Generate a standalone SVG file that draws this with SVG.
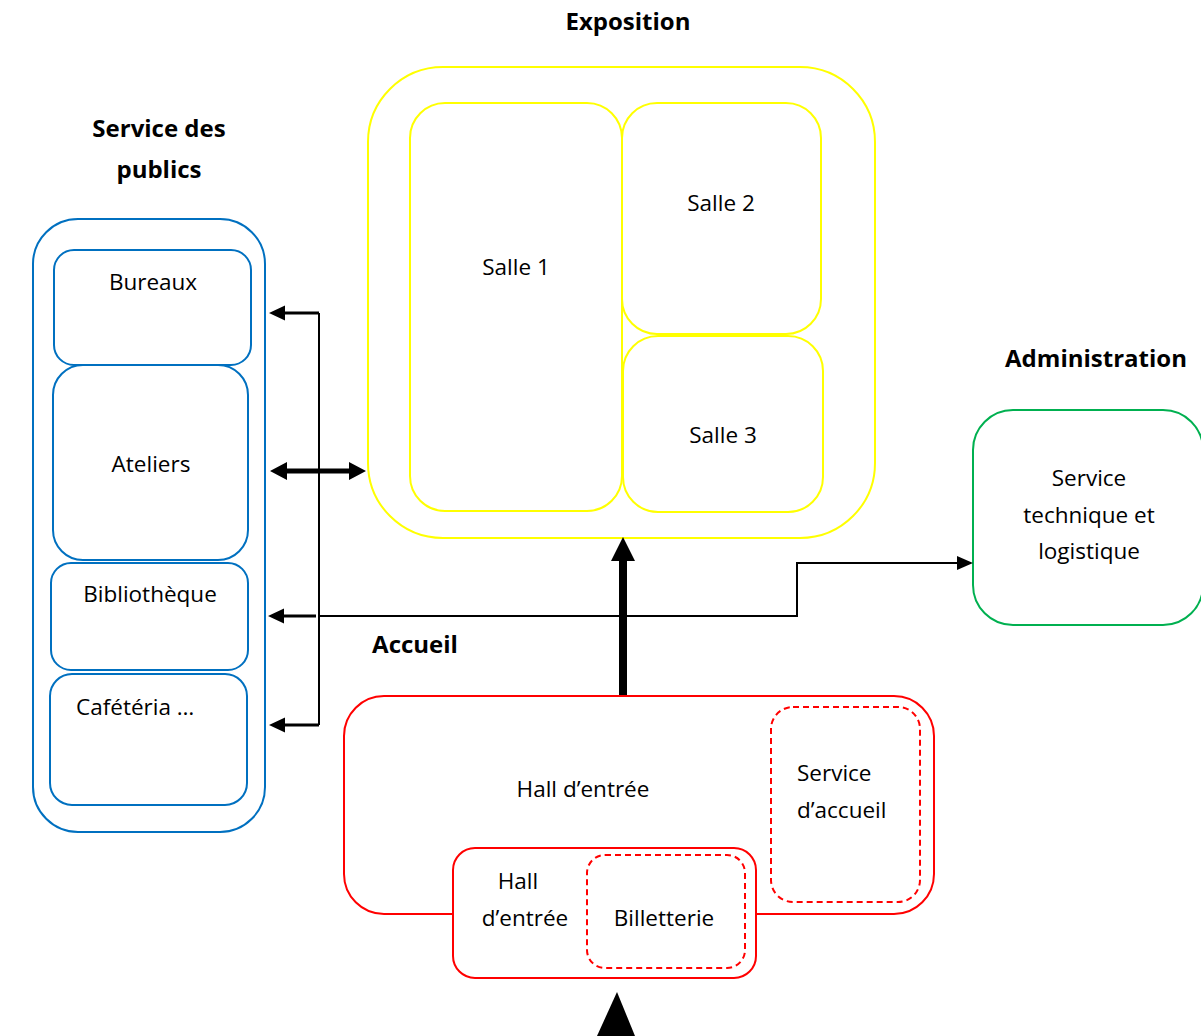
<svg xmlns="http://www.w3.org/2000/svg" width="1201" height="1036" viewBox="0 0 1201 1036">
<style>
text{font-family:"Open Sans","Liberation Sans",sans-serif;font-size:22.5px;fill:#000}
.t{font-family:"Open Sans","Liberation Sans",sans-serif;font-weight:bold;font-size:24px}
.c{text-anchor:middle}
.blue{fill:#fff;stroke:#0070C0;stroke-width:2}
.yel{fill:#fff;stroke:#FFFF00;stroke-width:2}
.grn{fill:#fff;stroke:#00B050;stroke-width:2}
.red{fill:#fff;stroke:#FF0000;stroke-width:2}
.dash{fill:#fff;stroke:#FF0000;stroke-width:2;stroke-dasharray:6 4}
.ln{fill:none;stroke:#000}
</style>
<rect width="1201" height="1036" fill="#fff"/>
<g id="service-des-publics">
<text class="t c" x="159" y="137">Service des</text>
<text class="t c" x="159" y="178">publics</text>
<rect class="blue" x="33" y="219" width="232" height="613" rx="45"/>
</g>
<g id="bureaux"><rect class="blue" x="54" y="250" width="197" height="115" rx="20"/><text class="c" x="153" y="290">Bureaux</text></g>
<g id="ateliers"><rect class="blue" x="53" y="365" width="195" height="195" rx="30"/><text class="c" x="151" y="472">Ateliers</text></g>
<g id="bibliotheque"><rect class="blue" x="51" y="563" width="197" height="107" rx="20"/><text class="c" x="150" y="602">Bibliothèque</text></g>
<g id="cafeteria"><rect class="blue" x="50" y="674" width="197" height="131" rx="22"/><text x="76" y="715">Cafétéria …</text></g>
<g id="exposition">
<text class="t c" x="628" y="30">Exposition</text>
<rect class="yel" x="368" y="67" width="507" height="471" rx="75"/>
</g>
<g id="salle1"><rect class="yel" x="410" y="103" width="212" height="408" rx="35"/><text class="c" x="516" y="275">Salle 1</text></g>
<g id="salle2"><rect class="yel" x="622" y="103" width="199" height="231" rx="35"/><text class="c" x="721" y="211">Salle 2</text></g>
<g id="salle3"><rect class="yel" x="623" y="336" width="200" height="176" rx="35"/><text class="c" x="723" y="443">Salle 3</text></g>
<g id="administration">
<text class="t c" x="1096" y="367">Administration</text>
<rect class="grn" x="973" y="410" width="230" height="215" rx="40"/>
<text class="c" x="1089" y="486">Service</text>
<text class="c" x="1089" y="523">technique et</text>
<text class="c" x="1089" y="559">logistique</text>
</g>
<g id="accueil">
<text class="t c" x="415" y="653">Accueil</text>
<rect class="red" x="344" y="696" width="590" height="218" rx="40"/>
<text class="c" x="583" y="797">Hall d’entrée</text>
</g>
<g id="service-accueil"><rect class="dash" x="771" y="707" width="149" height="195" rx="22"/><text x="797" y="781">Service</text><text x="797" y="818">d’accueil</text></g>
<g id="hall-entree"><rect class="red" x="453" y="848" width="303" height="130" rx="22"/><text class="c" x="518" y="889">Hall</text><text class="c" x="525" y="926">d’entrée</text></g>
<g id="billetterie"><rect class="dash" x="587" y="855" width="158" height="113" rx="18"/><text class="c" x="664" y="926">Billetterie</text></g>
<g id="connectors">
<path class="ln" stroke-width="2" d="M319 313V725"/>
<path class="ln" stroke-width="3" d="M319 313H282M319 725H282M316 616H282"/>
<path d="M269 313l16-7.5v15z M269 725l16-7.5v15z M268 616l16-7.5v15z"/>
<path class="ln" stroke-width="5" d="M285 471H350"/>
<path d="M270 471l17-9v18z M366 471l-17-9v18z"/>
<path class="ln" stroke-width="2" d="M319 616H797V563H960"/>
<path d="M973 563l-16-7v14z"/>
<path class="ln" stroke-width="8" d="M623 695V558"/>
<path d="M623 537l12 24h-24z"/>
<path d="M617 992l18 44h-38z"/>
</g>
</svg>
